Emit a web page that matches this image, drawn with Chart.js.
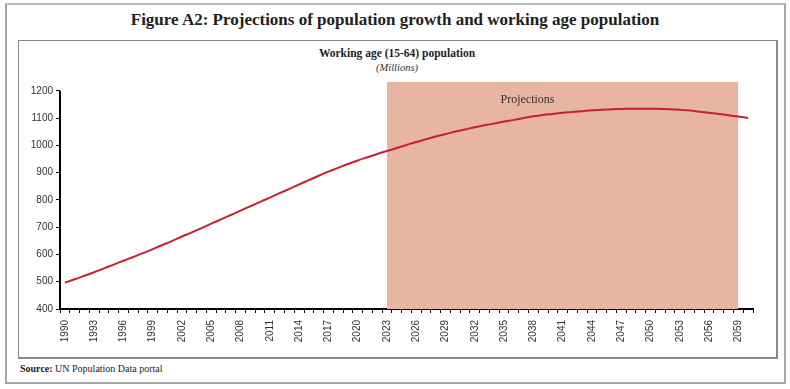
<!DOCTYPE html>
<html>
<head>
<meta charset="utf-8">
<script src="https://cdn.jsdelivr.net/npm/chart.js@4.4.1/dist/chart.umd.min.js"></script>
<style>
  html, body { margin:0; padding:0; background:#fff; }
  body { width:790px; height:389px; position:relative; overflow:hidden; }
  #outer { position:absolute; left:5px; top:3px; width:777px; height:377px; border:2px solid #a6a6a6; border-top-color:#bdbdbd; }
  #title { position:absolute; left:0; top:10px; width:790px; text-align:center; font-family:"Liberation Serif", serif; font-weight:bold; font-size:17px; color:#222; }
  #inner { position:absolute; left:18px; top:40px; width:757px; height:316px; border:1px solid #8a8a8a; border-right:2px solid #8a8a8a; border-bottom:2px solid #8a8a8a; }
  #sub1 { position:absolute; left:18px; top:47px; width:758px; text-align:center; font-family:"Liberation Serif", serif; font-weight:bold; font-size:11.5px; color:#222; }
  #sub2 { position:absolute; left:18px; top:62px; width:758px; text-align:center; font-family:"Liberation Serif", serif; font-style:italic; font-size:10.5px; color:#333; }
  #src { position:absolute; left:20px; top:363px; font-family:"Liberation Serif", serif; font-size:10px; color:#222; }
  #wrap { position:absolute; left:18px; top:40px; width:758px; height:317px; }
</style>
</head>
<body>
<div id="outer"></div>
<div id="title">Figure A2: Projections of population growth and working age population</div>
<div id="inner"></div>
<div id="sub1">Working age (15-64) population</div>
<div id="sub2">(Millions)</div>
<div id="src"><b>Source:</b> UN Population Data portal</div>
<div id="wrap"><canvas id="c" width="758" height="317"></canvas></div>
<script>
// ---- data ----
const years = [];
for (let y = 1990; y <= 2060; y++) years.push(String(y));

const workingAge = [
  497, 509, 522, 535, 549, 563, 577, 591, 605, 620,   // 1990-1999
  635, 650, 666, 681, 697, 713, 729, 745, 761, 777,   // 2000-2009
  793, 809, 825, 841, 857, 873, 889, 904, 918, 932,   // 2010-2019
  945, 957, 969, 980, 991, 1002, 1013, 1023, 1033, 1042, // 2020-2029
  1051, 1059, 1067, 1074, 1081, 1088, 1094, 1101, 1107, 1112, // 2030-2039
  1116, 1120, 1123, 1126, 1129, 1131, 1133, 1134, 1135, 1135, // 2040-2049
  1135, 1134, 1133, 1131, 1128, 1124, 1120, 1116, 1111, 1106, // 2050-2059
  1101 // 2060
];

const yTickValues = [400, 500, 600, 700, 800, 900, 1000, 1100, 1200];

const projStart = '2023';
const projEnd = '2059';
const yTop = 1233;     // shaded band reaches slightly above the top tick
const projBand = years.map(y => (y >= projStart && y <= projEnd) ? yTop : null);

const tickEvery = 3;

// ---- plugins ----
const yAxisLine = {
  id: 'yAxisLine',
  afterDatasetsDraw(chart) {
    const ys = chart.scales.y, ctx = chart.ctx;
    const x = chart.chartArea.left;
    ctx.save();
    ctx.strokeStyle = '#000';
    ctx.lineWidth = 2;
    ctx.beginPath();
    ctx.moveTo(x, ys.getPixelForValue(yTickValues[yTickValues.length - 1]));
    ctx.lineTo(x, ys.getPixelForValue(yTickValues[0]) + 1);
    ctx.stroke();
    ctx.restore();
  }
};
const projLabel = {
  id: 'projLabel',
  afterDatasetsDraw(chart) {
    const xs = chart.scales.x, ys = chart.scales.y, ctx = chart.ctx;
    ctx.save();
    ctx.font = '12px "Liberation Serif", serif';
    ctx.fillStyle = '#333';
    ctx.textAlign = 'center';
    ctx.textBaseline = 'middle';
    ctx.fillText('Projections', xs.getPixelForValue(47.4), ys.getPixelForValue(1167));
    ctx.restore();
  }
};

new Chart(document.getElementById('c'), {
  type: 'line',
  data: {
    labels: years,
    datasets: [
      {
        label: 'Working age (15-64) population',
        data: workingAge,
        borderColor: '#c8202f',
        borderWidth: 2,
        pointRadius: 0,
        tension: 0.4,
        fill: false,
        order: 0
      },
      {
        label: 'Projections',
        data: projBand,
        borderWidth: 0,
        borderColor: 'rgba(0,0,0,0)',
        backgroundColor: '#e8b5a3',
        pointRadius: 0,
        fill: 'start',
        spanGaps: false,
        order: 1
      }
    ]
  },
  options: {
    responsive: false,
    animation: false,
    events: [],
    layout: { padding: { top: 42, right: 23, bottom: 0, left: 0 } },
    plugins: { legend: { display: false }, tooltip: { enabled: false }, title: { display: false } },
    scales: {
      x: {
        type: 'category',
        offset: true,
        grid: { offset: true, drawOnChartArea: false, drawTicks: true, tickLength: 4, color: '#000', lineWidth: 1 },
        border: { display: true, color: '#000', width: 2 },
        ticks: {
          autoSkip: false,
          minRotation: 90,
          maxRotation: 90,
          padding: 7,
          color: '#333',
          font: { family: '"Liberation Sans", sans-serif', size: 10 },
          callback: (v, i) => (i % tickEvery === 0 ? years[i] : '')
        },
        afterFit(scale) { scale.height = 48; }
      },
      y: {
        min: yTickValues[0],
        max: yTop,
        grid: { drawOnChartArea: false, drawTicks: true, tickLength: 4, color: '#000', lineWidth: 1 },
        border: { display: false },
        ticks: {
          padding: 3,
          color: '#333',
          font: { family: '"Liberation Sans", sans-serif', size: 10 },
          callback: v => String(v)
        },
        afterBuildTicks(scale) { scale.ticks = yTickValues.map(v => ({ value: v })); },
        afterFit(scale) { scale.width = 42; }
      }
    }
  },
  plugins: [yAxisLine, projLabel]
});
</script>
</body>
</html>
